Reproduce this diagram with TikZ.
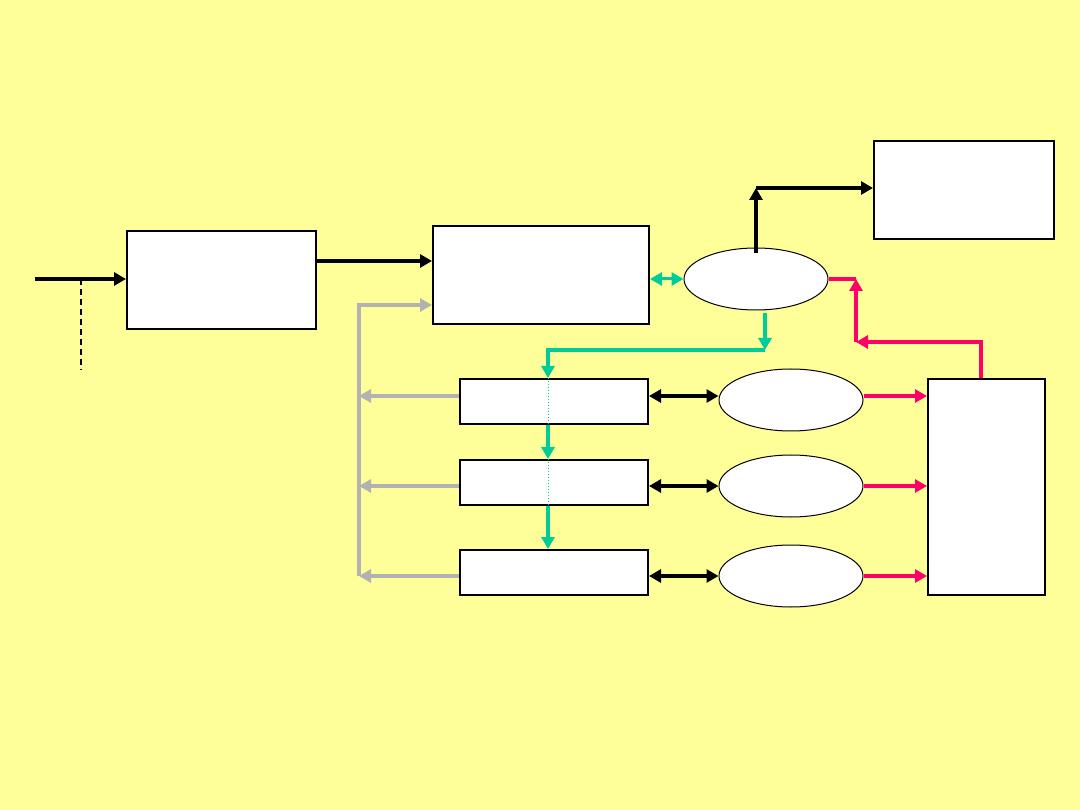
\documentclass[tikz,border=0pt]{standalone}
\usetikzlibrary{arrows.meta,shapes.geometric}
\definecolor{bgy}{RGB}{255,255,153}
\definecolor{grn}{RGB}{0,204,153}
\definecolor{pnk}{RGB}{255,0,102}
\definecolor{gry}{RGB}{178,178,178}
\tikzset{
  box/.style={draw=black,fill=white,line width=2pt,rectangle,inner sep=0pt,anchor=north west},
  oval/.style={draw=black,fill=white,line width=1pt,ellipse,inner sep=0pt},
  tip/.style={-{Triangle[length=12pt,width=13pt]}},
  dtip/.style={{Triangle[length=12pt,width=13pt]}-{Triangle[length=12pt,width=13pt]}},
  blk/.style={draw=black,line width=4pt},
  grl/.style={draw=grn,line width=4pt},
  pkl/.style={draw=pnk,line width=4pt},
  gyl/.style={draw=gry,line width=4pt},
}
\begin{document}
\begin{tikzpicture}[x=1pt,y=-1pt]
\fill[bgy] (0,0) rectangle (1080,810);
\useasboundingbox (0,0) rectangle (1080,810);
% boxes
\node[box,minimum width=189pt,minimum height=98pt] (A) at (126,230) {};
\node[box,minimum width=216pt,minimum height=98pt] (B) at (432,225) {};
\node[box,minimum width=180pt,minimum height=98pt] (C) at (873,140) {};
\node[box,minimum width=188pt,minimum height=45pt] (S1) at (459,378) {};
\node[box,minimum width=188pt,minimum height=45pt] (S2) at (459,459) {};
\node[box,minimum width=188pt,minimum height=45pt] (S3) at (459,549) {};
\node[box,minimum width=117pt,minimum height=216pt] (T) at (927,378) {};
% ovals
\node[oval,minimum width=144pt,minimum height=62pt] (E0) at (756,279) {};
\node[oval,minimum width=144pt,minimum height=62pt] (E1) at (791,400) {};
\node[oval,minimum width=144pt,minimum height=62pt] (E2) at (791,486) {};
\node[oval,minimum width=144pt,minimum height=62pt] (E3) at (791,576) {};
% coordinates
\coordinate (in) at (35,279);
\coordinate (dtop) at (81,279);
\coordinate (dbot) at (81,370);
\coordinate (g0) at (359,305);
\coordinate (g1) at (359,576);
\coordinate (g2) at (359,396);
\coordinate (g3) at (359,486);
\coordinate (e0top) at (756,253);
\coordinate (up) at (756,188);
\coordinate (e0bot) at (765,313);
\coordinate (gc) at (765,350);
\coordinate (gl) at (548,350);
\coordinate (ptop) at (981,378);
\coordinate (pc) at (856,342);
\coordinate (pu) at (856,279);
% black
\draw[blk,tip] (in) -- (A.west |- in);
\draw[black,line width=2pt,dashed,dash pattern=on 6pt off 4pt] (dtop) -- (dbot);
\draw[blk,tip] (A.east |- 0,261) -- (B.west |- 0,261);
\draw[blk,tip] (e0top) -- (up);
\draw[blk,tip] (up) -- (C.west |- up);
\draw[blk,dtip] (S1.east |- 0,396) -- (E1.west |- 0,396);
\draw[blk,dtip] (S2.east |- 0,486) -- (E2.west |- 0,486);
\draw[blk,dtip] (S3.east |- 0,576) -- (E3.west |- 0,576);
% gray
\draw[gyl,tip] (g1) -- (g0) -- (B.west |- g0);
\draw[gyl,tip] (S1.west |- g2) -- (g2);
\draw[gyl,tip] (S2.west |- g3) -- (g3);
\draw[gyl,tip] (S3.west |- g1) -- (g1);
% green
\draw[grl,dtip,line width=3pt] (B.east |- E0) -- (E0.west);
\draw[grl,tip] (e0bot) -- (gc);
\draw[grl,tip] (gc) -- (gl) -- (gl |- S1.north);
\draw[grl,tip] (gl |- S1.south) -- (gl |- S2.north);
\draw[grl,tip] (gl |- S2.south) -- (gl |- S3.north);
\draw[grn,line width=1pt,dotted] (gl |- S1.north) -- (gl |- S2.south);
% pink
\draw[pkl,tip] (E1.east |- 0,396) -- (T.west |- 0,396);
\draw[pkl,tip] (E2.east |- 0,486) -- (T.west |- 0,486);
\draw[pkl,tip] (E3.east |- 0,576) -- (T.west |- 0,576);
\draw[pkl,tip] (ptop) |- (pc);
\draw[pkl,tip] (pc) -- (pu);
\draw[pkl] (E0.east) -- (pu);
\end{tikzpicture}
\end{document}
